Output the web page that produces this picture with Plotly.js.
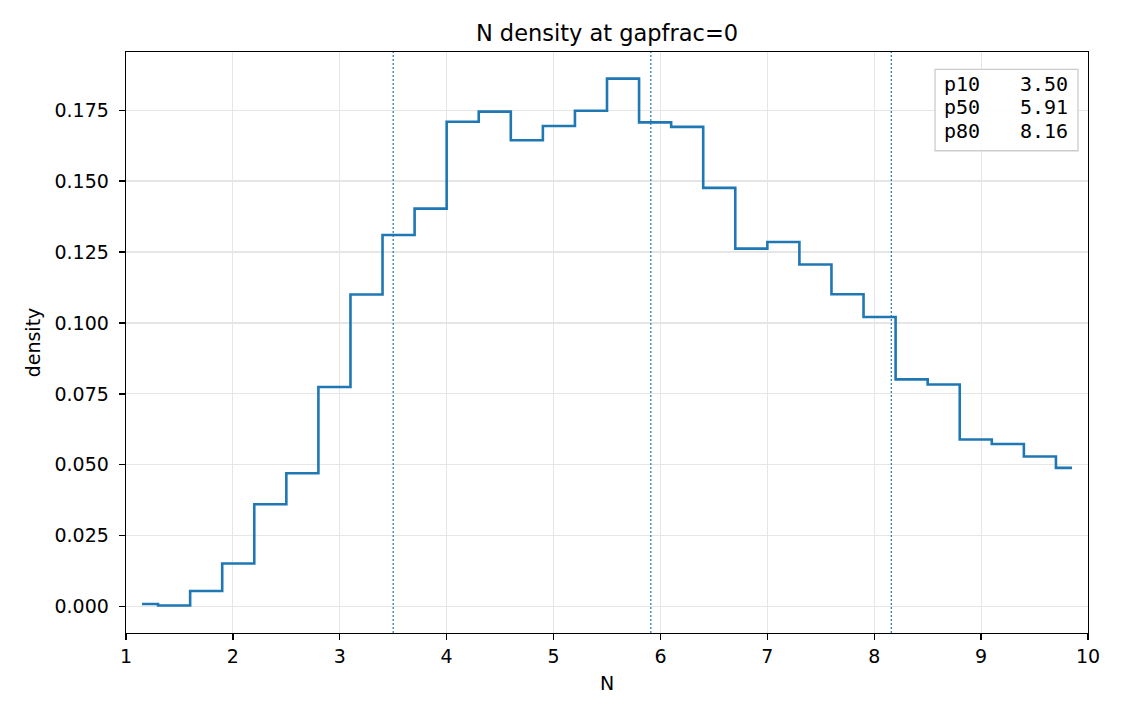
<!DOCTYPE html>
<html>
<head>
<meta charset="utf-8">
<script src="https://cdn.plot.ly/plotly-3.0.1.min.js"></script>
<style>html,body{margin:0;padding:0;background:#fff;}#chart{width:1125px;height:720px;}</style>
</head>
<body>
<div id="chart"></div>
<script>
// Bin centers (N) and density values
const binCenters = [1.15, 1.45, 1.75, 2.05, 2.35, 2.65, 2.95, 3.25, 3.55, 3.85,
                    4.15, 4.45, 4.75, 5.05, 5.35, 5.65, 5.95, 6.25, 6.55, 6.85,
                    7.15, 7.45, 7.75, 8.05, 8.35, 8.65, 8.95, 9.25, 9.55, 9.85];
const density = [0.0009, 0.0004, 0.0055, 0.0152, 0.0361, 0.0470, 0.0774, 0.1100, 0.1310, 0.1403,
                 0.1709, 0.1745, 0.1644, 0.1694, 0.1748, 0.1861, 0.1707, 0.1691, 0.1476, 0.1262,
                 0.1285, 0.1206, 0.1101, 0.1021, 0.0801, 0.0783, 0.0589, 0.0573, 0.0529, 0.0489];
const pctLabels = ["p10", "p50", "p80"];
const pctValues = [3.50, 5.91, 8.16];

const blue = "#1f77b4";
const font = "DejaVu Sans, sans-serif";
const mono = "DejaVu Sans Mono, monospace";

const trace = {
  x: binCenters, y: density, type: "scatter", mode: "lines",
  line: {shape: "hvh", color: blue, width: 2.6},
  hoverinfo: "skip", showlegend: false
};

const shapes = pctValues.map(v => ({
  type: "line", xref: "x", yref: "paper", x0: v, x1: v, y0: 0, y1: 1,
  line: {color: blue, width: 1.2, dash: "2px,2px"}, layer: "above"
}));
// legend-like box
shapes.push({
  type: "rect", xref: "paper", yref: "paper",
  x0: 0.841, x1: 0.9896, y0: 0.830, y1: 0.970,
  line: {color: "#cccccc", width: 1.3}, fillcolor: "rgba(255,255,255,0.85)", layer: "above"
});

const annotations = [];
const rowY = [0.9445, 0.9045, 0.8635];
pctLabels.forEach((lab, i) => {
  annotations.push({xref: "paper", yref: "paper", x: 0.848, y: rowY[i], xanchor: "left", yanchor: "middle",
    text: lab, showarrow: false, font: {family: mono, size: 20, color: "#000"}});
  annotations.push({xref: "paper", yref: "paper", x: 0.9815, y: rowY[i], xanchor: "right", yanchor: "middle",
    text: pctValues[i].toFixed(2), showarrow: false, font: {family: mono, size: 20, color: "#000"}});
});

const axisCommon = {
  showline: true, linecolor: "#000", linewidth: 1.3, mirror: true,
  ticks: "outside", ticklen: 6, tickwidth: 1.3, tickcolor: "#000",
  showgrid: true, gridcolor: "#e6e6e6", gridwidth: 1.2,
  zeroline: false, tickfont: {family: font, size: 19, color: "#000"}
};

const layout = {
  width: 1125, height: 720,
  margin: {l: 126, r: 37, t: 52, b: 87, pad: 0},
  paper_bgcolor: "#fff", plot_bgcolor: "#fff",
  font: {family: font, color: "#000"},
  title: {text: "N density at gapfrac=0", font: {family: font, size: 22.5, color: "#000"},
          x: 0.5, xanchor: "center", xref: "paper", y: 0.954, yanchor: "middle"},
  xaxis: Object.assign({}, axisCommon, {
    range: [1, 10], tickmode: "linear", tick0: 1, dtick: 1,
    title: {text: "N", font: {family: font, size: 19, color: "#000"}, standoff: 10}
  }),
  yaxis: Object.assign({}, axisCommon, {
    range: [-0.0093, 0.1955], tickmode: "linear", tick0: 0, dtick: 0.025, tickformat: ".3f",
    ticklabelstandoff: 6,
    title: {text: "density", font: {family: font, size: 19, color: "#000"}, standoff: 8}
  }),
  shapes: shapes, annotations: annotations, showlegend: false
};

Plotly.newPlot("chart", [trace], layout, {staticPlot: true, displayModeBar: false});
</script>
</body>
</html>
